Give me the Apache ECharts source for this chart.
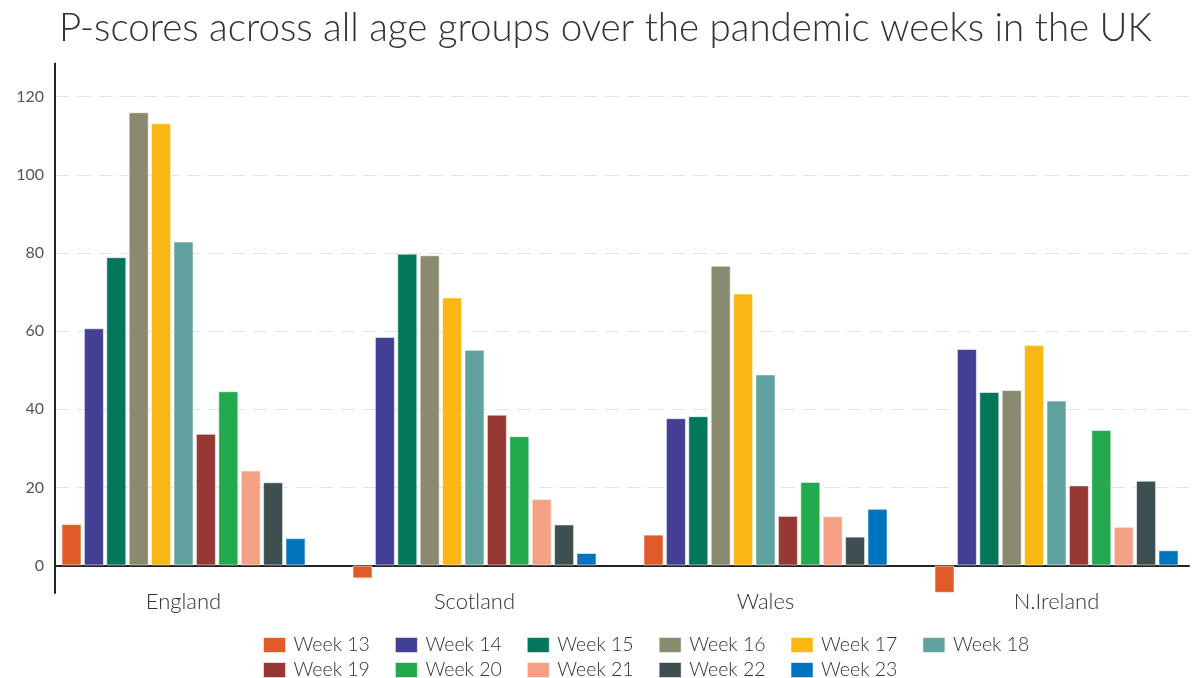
<!DOCTYPE html>
<html>
<head>
<meta charset="utf-8">
<title>P-scores across all age groups</title>
<script src="https://cdn.jsdelivr.net/npm/echarts@6/dist/echarts.min.js"></script>
<style>
  html, body { margin: 0; padding: 0; background: #fff; }
  #chart { width: 1202px; height: 678px; }
</style>
</head>
<body>
<div id="chart"></div>
<script>
// Nations along the category axis
const regions = ['England', 'Scotland', 'Wales', 'N.Ireland'];

// Weekly P-scores (%), one value per nation in the order above
const week13 = [10.6, -3.3, 7.9, -7.0];
const week14 = [60.7, 58.5, 37.7, 55.4];
const week15 = [78.9, 79.8, 38.2, 44.4];
const week16 = [116.0, 79.4, 76.7, 44.9];
const week17 = [113.2, 68.6, 69.6, 56.4];
const week18 = [82.9, 55.2, 48.9, 42.2];
const week19 = [33.7, 38.6, 12.7, 20.5];
const week20 = [44.6, 33.1, 21.4, 34.7];
const week21 = [24.3, 17.0, 12.6, 9.9];
const week22 = [21.3, 10.5, 7.4, 21.7];
const week23 = [7.0, 3.2, 14.5, 3.9];

const weekNames = ['Week 13', 'Week 14', 'Week 15', 'Week 16', 'Week 17', 'Week 18',
                   'Week 19', 'Week 20', 'Week 21', 'Week 22', 'Week 23'];
const weekValues = [week13, week14, week15, week16, week17, week18,
                    week19, week20, week21, week22, week23];
const weekColors = ['#e05a2a', '#423f95', '#00765a', '#8a8a70', '#fbb714', '#60a29f',
                    '#963935', '#23aa4e', '#f6a085', '#3d4f51', '#0074bf'];

// Y axis tick labels
const yTicks = [0, 20, 40, 60, 80, 100, 120];
const yMin = -7.04;
const yMax = 128.5;

const FONT = 'Lato, "Open Sans", sans-serif';

const series = weekNames.map((name, i) => ({
  name: name,
  type: 'bar',
  xAxisIndex: 0,
  yAxisIndex: 0,
  data: weekValues[i],
  barWidth: 20,
  barGap: '12%',
  itemStyle: {
    color: weekColors[i],
    borderColor: 'rgba(255,255,255,0.55)',
    borderWidth: 1
  },
  emphasis: { disabled: true }
}));

// Two legend rows sharing the same column layout
const legendBase = {
  left: 258,
  orient: 'horizontal',
  itemWidth: 22,
  itemHeight: 15,
  itemGap: 25,
  icon: 'rect',
  selectedMode: false,
  itemStyle: { borderColor: 'rgba(255,255,255,0.55)', borderWidth: 1 },
  textStyle: {
    fontFamily: FONT, fontWeight: 300, fontSize: 19.5, color: '#333',
    padding: [0, 0, 0, 3]
  }
};

const chart = echarts.init(document.getElementById('chart'), null, { renderer: 'canvas' });

chart.setOption({
  animation: false,
  color: weekColors,
  title: {
    text: 'P-scores across all age groups over the pandemic weeks in the UK',
    left: 54,
    top: 4,
    textStyle: { fontFamily: FONT, fontWeight: 300, fontSize: 38.5, color: '#333' }
  },
  legend: [
    Object.assign({}, legendBase, { top: 630, data: weekNames.slice(0, 6) }),
    Object.assign({}, legendBase, { top: 655, data: weekNames.slice(6) })
  ],
  grid: [
    // bars
    { left: 38, right: 0, top: 63.4, bottom: 85, containLabel: false },
    // axes, gridlines and zero line
    { left: 55, right: 13, top: 63.4, bottom: 85, containLabel: false }
  ],
  xAxis: [
    {
      type: 'category',
      gridIndex: 0,
      data: regions,
      axisLine: { show: false },
      axisTick: { show: false },
      axisLabel: { fontFamily: FONT, fontWeight: 300, fontSize: 22, color: '#333', margin: -2 },
      splitLine: { show: false }
    },
    {
      type: 'value',
      gridIndex: 1,
      min: 0,
      max: 1,
      axisLine: { show: true, onZero: true, lineStyle: { color: '#222', width: 2 } },
      axisTick: { show: false },
      axisLabel: { show: false },
      splitLine: { show: false }
    }
  ],
  yAxis: [
    {
      type: 'value',
      gridIndex: 0,
      min: yMin,
      max: yMax,
      show: false
    },
    {
      type: 'value',
      gridIndex: 1,
      min: yMin,
      max: yMax,
      axisLine: { show: true, lineStyle: { color: '#222', width: 2 } },
      axisTick: { show: false, customValues: yTicks },
      axisLabel: {
        customValues: yTicks,
        fontFamily: FONT, fontSize: 16, color: '#555', margin: 11
      },
      splitLine: { show: true, lineStyle: { color: '#e3e3e3', width: 1, type: [14, 8] } }
    }
  ],
  series: series
});
</script>
</body>
</html>
